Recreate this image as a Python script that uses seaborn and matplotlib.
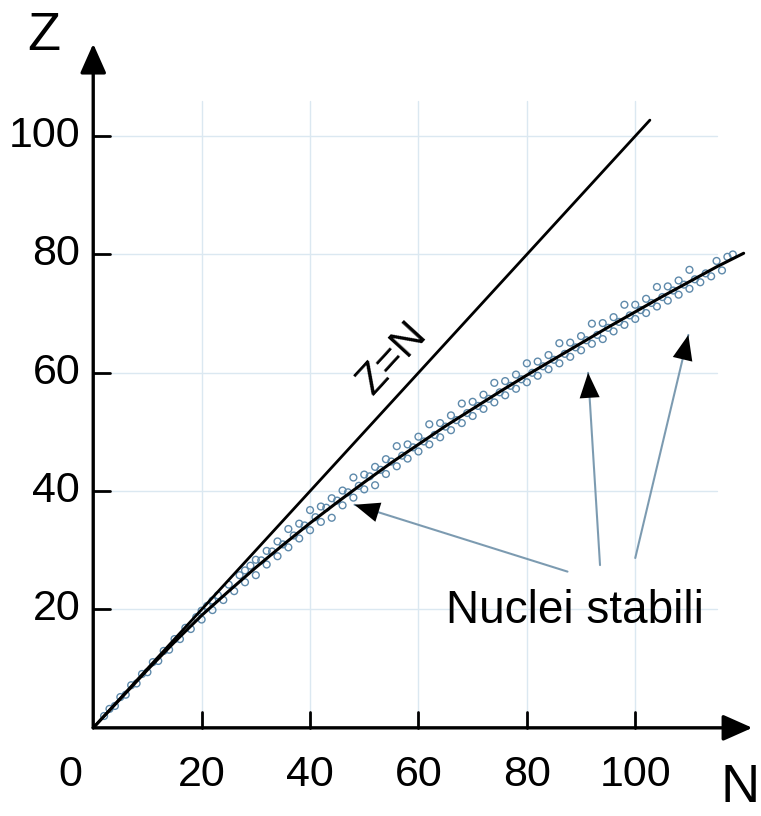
import matplotlib
matplotlib.use("Agg")
import matplotlib.pyplot as plt
import seaborn as sns

# ---------------- data ----------------
tick_values = [20, 40, 60, 80, 100]
tick_labels = ["20", "40", "60", "80", "100"]

diag_N = [0, 102.7]
diag_Z = [0, 102.7]

curve_N = [0, 5, 10, 15, 20, 25, 30, 35, 40, 45, 50, 55, 60, 65, 70, 75, 80,
           85, 90, 95, 100, 105, 110, 115, 120]
curve_Z = [0, 4.9, 9.8, 14.5, 19.0, 23.1, 27.1, 30.9, 34.6, 38.1, 41.5, 44.8, 47.9,
           51.0, 53.9, 56.8, 59.6, 62.3, 65.0, 67.7, 70.3, 72.9, 75.4, 77.9, 80.2]

nuc_N = [2, 3, 4, 5, 6, 7, 8, 9, 10, 11, 12, 13, 14, 15, 16, 17, 18, 19, 20, 20,
         21, 22, 22, 23, 24, 25, 26, 27, 28, 28, 29, 30, 30, 31, 32, 32, 33, 34, 34, 35,
         36, 36, 37, 38, 38, 39, 40, 40, 41, 42, 42, 43, 44, 44, 45, 46, 46, 47, 48, 48,
         49, 50, 50, 51, 52, 52, 53, 54, 54, 55, 56, 56, 57, 58, 58, 59, 60, 60, 61, 62,
         62, 63, 64, 64, 65, 66, 66, 67, 68, 68, 69, 70, 70, 71, 72, 72, 73, 74, 74, 75,
         76, 76, 77, 78, 78, 79, 80, 80, 81, 82, 82, 83, 84, 84, 85, 86, 86, 87, 88, 88,
         89, 90, 90, 91, 92, 92, 93, 94, 94, 95, 96, 96, 97, 98, 98, 99, 100, 100, 101, 102,
         102, 103, 104, 104, 105, 106, 106, 107, 108, 108, 109, 110, 110, 111, 112, 113, 114, 115, 116, 117,
         118]
nuc_Z = [2.0, 3.2, 3.7, 5.2, 5.6, 7.2, 7.5, 9.1, 9.4, 11.1, 11.3, 13.0, 13.2, 15.0, 15.0, 16.9, 16.7, 18.7, 18.3, 19.8,
         20.6, 21.5, 19.9, 22.4, 21.6, 24.2, 23.1, 25.8, 24.6, 26.6, 27.4, 25.8, 28.4, 28.3, 27.6, 29.9, 29.8, 29.0, 31.5, 31.0,
         30.5, 33.6, 32.5, 32.0, 34.5, 34.2, 33.4, 36.8, 35.6, 34.8, 37.4, 37.2, 35.5, 38.8, 38.4, 37.6, 40.1, 39.8, 38.9, 42.3,
         40.9, 40.3, 42.8, 42.5, 41.0, 44.1, 43.6, 42.9, 45.4, 45.0, 44.2, 47.6, 46.0, 45.5, 47.9, 47.4, 46.7, 49.2, 48.4, 47.9,
         51.3, 49.5, 49.1, 51.5, 50.9, 50.3, 52.8, 52.0, 51.5, 54.8, 53.2, 52.7, 55.1, 54.4, 53.9, 56.3, 55.6, 55.0, 58.3, 56.7,
         56.2, 58.6, 57.8, 57.3, 59.7, 58.9, 58.4, 61.6, 60.0, 59.5, 61.9, 61.1, 60.6, 63.0, 62.2, 61.6, 65.0, 63.2, 62.7, 65.1,
         64.3, 63.8, 66.2, 65.5, 64.9, 68.3, 66.4, 65.7, 68.4, 67.6, 67.0, 69.4, 68.6, 68.1, 71.5, 69.7, 69.1, 71.5, 70.6, 70.1,
         72.5, 71.8, 71.2, 74.5, 72.8, 72.2, 74.6, 73.9, 73.2, 75.6, 74.9, 74.2, 77.4, 75.8, 75.3, 76.8, 76.3, 78.9, 77.3, 79.6,
         80.0]

arrow_heads = [(48.2, 37.7), (91.3, 60.0), (109.8, 66.4)]
arrow_tails = [(87.5, 26.4), (93.5, 27.5), (100.0, 28.7)]

# ---------------- style ----------------
sns.set_theme(style="white")
plt.rcParams["font.family"] = ["Liberation Sans", "DejaVu Sans"]
plt.rcParams["text.color"] = "black"

fig = plt.figure(figsize=(7.61, 8.16), dpi=100)
ax = fig.add_axes([0, 0, 1, 1])
ax.set_xlim(-17.2, 123.2)
ax.set_ylim(-14.9, 123.0)
ax.axis("off")

grid_c = "#dbe8f1"
for v in tick_values:
    ax.plot([v, v], [0, 106], color=grid_c, lw=1.0, zorder=0)
    ax.plot([0, 115], [v, v], color=grid_c, lw=1.0, zorder=0)

# points
sns.scatterplot(x=nuc_N, y=nuc_Z, ax=ax, marker="o", s=24,
                facecolor="none", edgecolor="#5f8aab", linewidth=1.0, zorder=2)

# lines
sns.lineplot(x=diag_N, y=diag_Z, ax=ax, color="black", lw=2.0, zorder=3)
sns.lineplot(x=curve_N, y=curve_Z, ax=ax, color="black", lw=2.2, zorder=3)

# axes with arrows
axis_kw = dict(arrowstyle="-|>,head_length=0.45,head_width=0.2", color="black",
               lw=2.4, mutation_scale=40, shrinkA=0, shrinkB=0)
ax.annotate("", xy=(121.6, 0), xytext=(0, 0), arrowprops=axis_kw, zorder=4)
ax.annotate("", xy=(0, 115.6), xytext=(0, 0), arrowprops=axis_kw, zorder=4)

# ticks
for v, lab in zip(tick_values, tick_labels):
    ax.plot([v, v], [0, 2.6], color="black", lw=2.0, zorder=4)
    ax.plot([0, 3.1], [v, v], color="black", lw=2.0, zorder=4)
    ax.text(v, -7.9, lab, ha="center", va="center", fontsize=31, color="black")
    ax.text(-2.4, v, lab, ha="right", va="center", fontsize=31, color="black")
ax.text(-4.2, -7.9, "0", ha="center", va="center", fontsize=31, color="black")

ax.text(-9.1, 117.0, "Z", ha="center", va="center", fontsize=39, color="black")
ax.text(119.3, -12.6, "N", ha="center", va="baseline", fontsize=39, color="black")

ax.text(55.2, 62.5, "Z=N", ha="center", va="center", fontsize=31, color="black",
        rotation=47.5, rotation_mode="anchor")

ax.text(88.9, 19.8, "Nuclei stabili", ha="center", va="center", fontsize=33, color="black")

# annotation arrows: grey shaft + black head
for (hx, hy), (tx, ty) in zip(arrow_heads, arrow_tails):
    ax.plot([tx, hx], [ty, hy], color="#7e9db3", lw=1.5, zorder=5)
    ax.annotate("", xy=(hx, hy), xytext=(tx, ty),
                arrowprops=dict(arrowstyle="-|>,head_length=0.45,head_width=0.18",
                                fc="black", ec="black", lw=0.01, mutation_scale=40,
                                shrinkA=0, shrinkB=0), zorder=6)

fig.savefig("out.png", dpi=100)
